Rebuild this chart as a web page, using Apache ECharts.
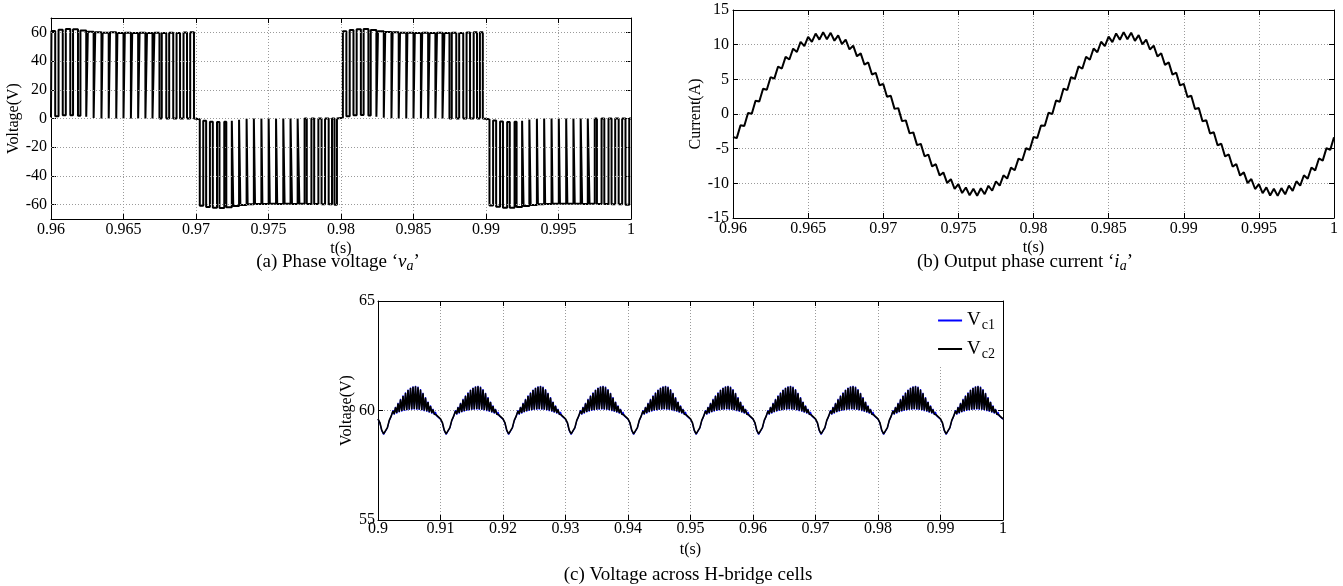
<!DOCTYPE html>
<html><head><meta charset="utf-8">
<script src="https://cdn.jsdelivr.net/npm/echarts@6/dist/echarts.min.js"></script>
<style>html,body{margin:0;padding:0;background:#fff}#c{width:1343px;height:586px}</style>
</head><body><div id="c"></div>
<script>
// ---------- (a) phase voltage: PWM pulses, one set of arrays per half cycle ----------
const vaStart = 0.96, vaEnd = 1.0;
const vaH1Rise = [0.96003,0.96052,0.96102,0.96152,0.96203,0.96254,0.96305,0.96356,0.96407,0.96458,0.96509,0.96560,0.96611,0.96662,0.96713,0.96764,0.96815,0.96866,0.96914,0.96960];
const vaH1Fall = [0.96029,0.96081,0.96133,0.96186,0.96243,0.96294,0.96348,0.96398,0.96450,0.96500,0.96551,0.96601,0.96651,0.96700,0.96748,0.96795,0.96843,0.96890,0.96938,0.96986];
const vaH1Peak = [61.0,61.8,62.3,62.1,61.3,60.5,60.0,59.8,60.0,59.6,59.8,59.5,59.8,59.5,59.7,59.6,59.8,59.6,59.9,60.0];
const vaH1Low  = [0.8,1.6,2.2,2.3,2.0,1.2,0.4,0,0,0,0,0,0,0,0,0,0,0,0,0,0];

const vaH2Rise = [0.97026,0.97070,0.97116,0.97162,0.97209,0.97257,0.97306,0.97356,0.97407,0.97458,0.97509,0.97560,0.97611,0.97662,0.97713,0.97764,0.97815,0.97866,0.97915,0.97955];
const vaH2Fall = [0.97050,0.97096,0.97145,0.97195,0.97247,0.97297,0.97349,0.97399,0.97451,0.97501,0.97552,0.97602,0.97652,0.97701,0.97749,0.97796,0.97844,0.97890,0.97938,0.97972];
const vaH2Peak = [-60.8,-61.6,-62.2,-62.3,-61.8,-61.0,-60.3,-59.8,-59.6,-59.5,-59.3,-59.5,-59.3,-59.5,-59.4,-59.6,-59.5,-59.7,-59.8,-60.0];
const vaH2Low  = [-0.6,-1.5,-2.2,-2.5,-2.3,-1.6,-0.8,-0.2,0,0,0,0,0,0,0,0,0,0,0,0,0];

const vaH3Rise = [0.98013,0.98060,0.98108,0.98156,0.98205,0.98255,0.98305,0.98356,0.98407,0.98458,0.98509,0.98560,0.98611,0.98662,0.98713,0.98764,0.98815,0.98866,0.98915,0.98958];
const vaH3Fall = [0.98037,0.98086,0.98137,0.98189,0.98244,0.98295,0.98348,0.98398,0.98450,0.98500,0.98551,0.98601,0.98651,0.98700,0.98748,0.98795,0.98843,0.98890,0.98938,0.98978];
const vaH3Peak = [60.8,61.6,62.2,62.3,61.6,60.8,60.2,60.0,59.8,59.8,59.6,59.8,59.5,59.8,59.6,59.8,59.6,59.9,60.0,60.0];
const vaH3Low  = [0.6,1.5,2.2,2.4,2.1,1.3,0.5,0.1,0,0,0,0,0,0,0,0,0,0,0,0,0];

const vaH4Rise = [0.99024,0.99070,0.99117,0.99164,0.99211,0.99259,0.99308,0.99358,0.99408,0.99459,0.99510,0.99561,0.99612,0.99663,0.99714,0.99765,0.99816,0.99866,0.99915,0.99962];
const vaH4Fall = [0.99049,0.99097,0.99146,0.99197,0.99249,0.99299,0.99351,0.99401,0.99452,0.99502,0.99553,0.99603,0.99653,0.99702,0.99750,0.99797,0.99845,0.99891,0.99939,0.99988];
const vaH4Peak = [-60.6,-61.5,-62.1,-62.2,-61.7,-60.9,-60.2,-59.8,-59.6,-59.4,-59.3,-59.4,-59.3,-59.5,-59.4,-59.6,-59.5,-59.7,-59.8,-60.0];
const vaH4Low  = [-0.5,-1.4,-2.1,-2.4,-2.2,-1.5,-0.7,-0.1,0,0,0,0,0,0,0,0,0,0,0,0,0];

const vaYTicks = [-60,-40,-20,0,20,40,60];

// ---------- (b) output phase current ----------
const iaT0 = 0.96, iaDt = 0.00025;
const iaValues = [
 -3.33,-3.48,-1.62,-1.74,0.15,0.03,1.92,1.79,3.65,3.49,
 5.31,5.10,6.85,6.56,8.24,7.86,9.43,8.94,10.40,9.80,
 11.13,10.40,11.60,10.73,11.79,10.79,11.71,10.57,11.35,10.07,
 10.72,9.32,9.85,8.32,8.74,7.11,7.43,5.70,5.94,4.15,
 4.33,2.48,2.62,0.74,0.85,-1.03,-0.92,-2.79,-2.65,-4.49,
 -4.31,-6.10,-5.85,-7.56,-7.24,-8.86,-8.43,-9.94,-9.40,-10.80,
 -10.13,-11.40,-10.60,-11.73,-10.79,-11.79,-10.71,-11.57,-10.35,-11.07,
 -9.72,-10.32,-8.85,-9.32,-7.74,-8.11,-6.43,-6.70,-4.94,-5.15,
 -3.33,
 -3.45,-1.65,-1.70,0.18,0.00,1.95,1.77,3.67,3.45,5.33,
 5.07,6.87,6.53,8.26,7.83,9.45,8.91,10.42,9.78,11.15,
 10.37,11.62,10.70,11.81,10.77,11.73,10.55,11.37,10.05,10.74,
 9.30,9.87,8.30,8.76,7.09,7.45,5.68,5.96,4.13,4.35,
 2.46,2.64,0.72,0.87,-1.05,-0.90,-2.81,-2.63,-4.51,-4.29,
 -6.12,-5.83,-7.58,-7.22,-8.88,-8.41,-9.96,-9.38,-10.82,-10.11,
 -11.42,-10.58,-11.75,-10.77,-11.81,-10.69,-11.59,-10.33,-11.09,-9.70,
 -10.34,-8.83,-9.34,-7.72,-8.13,-6.41,-6.72,-4.92,-5.17,-3.35
];

// ---------- (c) capacitor voltages ----------
const capCycleStarts = [0.90,0.91,0.92,0.93,0.94,0.95,0.96,0.97,0.98,0.99];
const capOffsets = [0,0.0003,0.0006,0.0009,0.0012,0.0015,0.0018,0.0021,0.0022,0.0024,0.0026,0.0028,0.0030,0.0032,0.0034,0.0036,0.0038,0.0040,0.0042,0.0044,0.0046,0.0048,0.0050,0.0052,0.0054,0.0056,0.0058,0.0060,0.0062,0.0064,0.0066,0.0068,0.0070,0.0072,0.0074,0.0076,0.0078,0.0080,0.0082,0.0084,0.0086,0.0088,0.0090,0.0092,0.0094,0.0097];
const vc1Cycle = [59.60,59.43,59.08,58.91,58.94,59.20,59.53,59.72,59.78,60.01,59.81,60.17,59.86,60.35,59.91,60.53,59.95,60.69,59.98,60.83,60.00,60.96,60.02,61.05,60.03,61.11,60.04,61.13,60.03,61.09,60.02,60.98,60.00,60.81,59.97,60.61,59.94,60.41,59.90,60.23,59.86,60.07,59.81,59.93,59.75,59.68];
const vc2Cycle = [59.62,59.45,59.10,58.93,58.96,59.22,59.55,59.74,59.80,59.98,59.84,60.14,59.89,60.32,59.94,60.50,59.98,60.66,60.01,60.80,60.03,60.93,60.05,61.02,60.06,61.08,60.07,61.10,60.06,61.06,60.05,60.95,60.03,60.78,60.00,60.58,59.97,60.38,59.93,60.20,59.89,60.04,59.84,59.90,59.78,59.70];
const capEndT = 1.0, vc1End = 59.60, vc2End = 59.62;
const capNames = ['Vc1','Vc2'];

// ---------- build series data ----------
function addPulses(out, rise, fall, peak, low) {
  for (let i = 0; i < rise.length; i++) {
    out.push([rise[i], low[i]], [rise[i], peak[i]], [fall[i], peak[i]], [fall[i], low[i + 1]]);
  }
}
const vaData = [[vaStart, vaH1Low[0]]];
addPulses(vaData, vaH1Rise, vaH1Fall, vaH1Peak, vaH1Low);
addPulses(vaData, vaH2Rise, vaH2Fall, vaH2Peak, vaH2Low);
addPulses(vaData, vaH3Rise, vaH3Fall, vaH3Peak, vaH3Low);
addPulses(vaData, vaH4Rise, vaH4Fall, vaH4Peak, vaH4Low);
vaData.push([vaEnd, 0]);

const iaData = iaValues.map((v, i) => [+(iaT0 + i * iaDt).toFixed(5), v]);

function buildCap(cycle, endV) {
  const out = [];
  capCycleStarts.forEach(s => capOffsets.forEach((o, j) => out.push([+(s + o).toFixed(5), cycle[j]])));
  out.push([capEndT, endV]);
  return out;
}
const vc1Data = buildCap(vc1Cycle, vc1End);
const vc2Data = buildCap(vc2Cycle, vc2End);

// ---------- chart ----------
const FONT = 'Liberation Serif';
const GRID_LINE = {color: '#9a9a9a', type: [1, 2], width: 1};
const fmtX = v => String(parseFloat(v.toFixed(3)));
const txt = (size) => ({fontFamily: FONT, fontSize: size, color: '#000'});

function xPair(gi, min, max, interval, margin) {
  return [
    {type: 'value', gridIndex: gi, min, max, interval, position: 'bottom',
     name: 't(s)', nameLocation: 'middle', nameGap: 22, nameTextStyle: txt(16),
     axisLine: {show: true, onZero: false, lineStyle: {color: '#000', width: 1}},
     axisTick: {show: true, inside: true, length: 5, lineStyle: {color: '#000'}},
     axisLabel: Object.assign(txt(16), {margin, formatter: fmtX, showMinLabel: true, showMaxLabel: true}),
     splitLine: {show: true, lineStyle: GRID_LINE}},
    {type: 'value', gridIndex: gi, min, max, interval, position: 'top',
     axisLine: {show: true, onZero: false, lineStyle: {color: '#000', width: 1}},
     axisTick: {show: true, inside: true, length: 5, lineStyle: {color: '#000'}},
     axisLabel: {show: false}, splitLine: {show: false}}
  ];
}
function yPair(gi, min, max, interval, name, nameGap, margin, custom) {
  const left = {type: 'value', gridIndex: gi, min, max, position: 'left',
     name, nameLocation: 'middle', nameGap, nameRotate: 90, nameTextStyle: txt(16),
     axisLine: {show: true, onZero: false, lineStyle: {color: '#000', width: 1}},
     axisTick: {show: true, inside: true, length: 5, lineStyle: {color: '#000'}},
     axisLabel: Object.assign(txt(16), {margin, showMinLabel: true, showMaxLabel: true}),
     splitLine: {show: !custom, lineStyle: GRID_LINE}};
  const right = {type: 'value', gridIndex: gi, min, max, position: 'right',
     axisLine: {show: true, onZero: false, lineStyle: {color: '#000', width: 1}},
     axisTick: {show: true, inside: true, length: 5, lineStyle: {color: '#000'}},
     axisLabel: {show: false}, splitLine: {show: false}};
  if (custom) {
    left.axisLabel.customValues = custom; left.axisTick.customValues = custom;
    right.axisTick.customValues = custom; right.axisLabel.customValues = custom;
  } else { left.interval = interval; right.interval = interval; }
  return [left, right];
}

const chart = echarts.init(document.getElementById('c'), null, {renderer: 'canvas'});
chart.setOption({
  animation: false,
  backgroundColor: '#fff',
  grid: [
    {left: 51, top: 18, width: 580, height: 201},
    {left: 733, top: 10, width: 601, height: 208},
    {left: 378, top: 301, width: 625, height: 219}
  ],
  xAxis: [].concat(xPair(0, 0.96, 1, 0.005, 3), xPair(1, 0.96, 1, 0.005, 3), xPair(2, 0.9, 1, 0.01, 1)),
  yAxis: [].concat(
    yPair(0, -70, 70, null, 'Voltage(V)', 24, 4, vaYTicks),
    yPair(1, -15, 15, 5, 'Current(A)', 26, 4, null),
    yPair(2, 55, 65, 5, 'Voltage(V)', 23, 3, null)),
  legend: {
    data: capNames, orient: 'vertical', right: 342, top: 302,
    itemWidth: 24, itemHeight: 2, icon: 'rect', itemGap: 7,
    padding: [9, 6, 6, 4], backgroundColor: '#fff',
    formatter: n => '{v|V}{s|' + n.slice(1) + '}',
    textStyle: {rich: {
      v: {fontFamily: FONT, fontSize: 19, color: '#000', lineHeight: 22},
      s: {fontFamily: FONT, fontSize: 14, color: '#000', padding: [10, 0, 0, 1]}
    }}
  },
  series: [
    {type: 'line', xAxisIndex: 0, yAxisIndex: 0, data: [], z: 1, silent: true,
     markLine: {silent: true, symbol: 'none', label: {show: false}, lineStyle: GRID_LINE,
       data: vaYTicks.map(v => ({yAxis: v}))}},
    {type: 'line', xAxisIndex: 0, yAxisIndex: 0, data: vaData, showSymbol: false, z: 3,
     lineStyle: {color: '#000', width: 2}},
    {type: 'line', xAxisIndex: 2, yAxisIndex: 2, data: iaData, showSymbol: false, z: 3,
     lineStyle: {color: '#000', width: 2}},
    {type: 'line', name: 'Vc1', xAxisIndex: 4, yAxisIndex: 4, data: vc1Data, showSymbol: false, z: 3,
     itemStyle: {color: '#0000ff'}, lineStyle: {color: '#0000ff', width: 1.2}},
    {type: 'line', name: 'Vc2', xAxisIndex: 4, yAxisIndex: 4, data: vc2Data, showSymbol: false, z: 4,
     itemStyle: {color: '#000'}, lineStyle: {color: '#000', width: 1.6}}
  ],
  graphic: [
    {type: 'text', x: 338, y: 262, z: 10, style: {text: '(a) Phase voltage ‘{i|v}{s|a}’',
      font: '19px "Liberation Serif"', fill: '#000', align: 'center', verticalAlign: 'middle',
      rich: {i: {fontFamily: FONT, fontStyle: 'italic', fontSize: 19}, s: {fontFamily: FONT, fontStyle: 'italic', fontSize: 14, padding: [8, 0, 0, 0]}}}},
    {type: 'text', x: 1025, y: 262, z: 10, style: {text: '(b) Output phase current ‘{i|i}{s|a}’',
      font: '19px "Liberation Serif"', fill: '#000', align: 'center', verticalAlign: 'middle',
      rich: {i: {fontFamily: FONT, fontStyle: 'italic', fontSize: 19}, s: {fontFamily: FONT, fontStyle: 'italic', fontSize: 14, padding: [8, 0, 0, 0]}}}},
    {type: 'text', x: 688, y: 575, z: 10, style: {text: '(c) Voltage across H-bridge cells',
      font: '19px "Liberation Serif"', fill: '#000', align: 'center', verticalAlign: 'middle'}}
  ]
});
</script></body></html>
